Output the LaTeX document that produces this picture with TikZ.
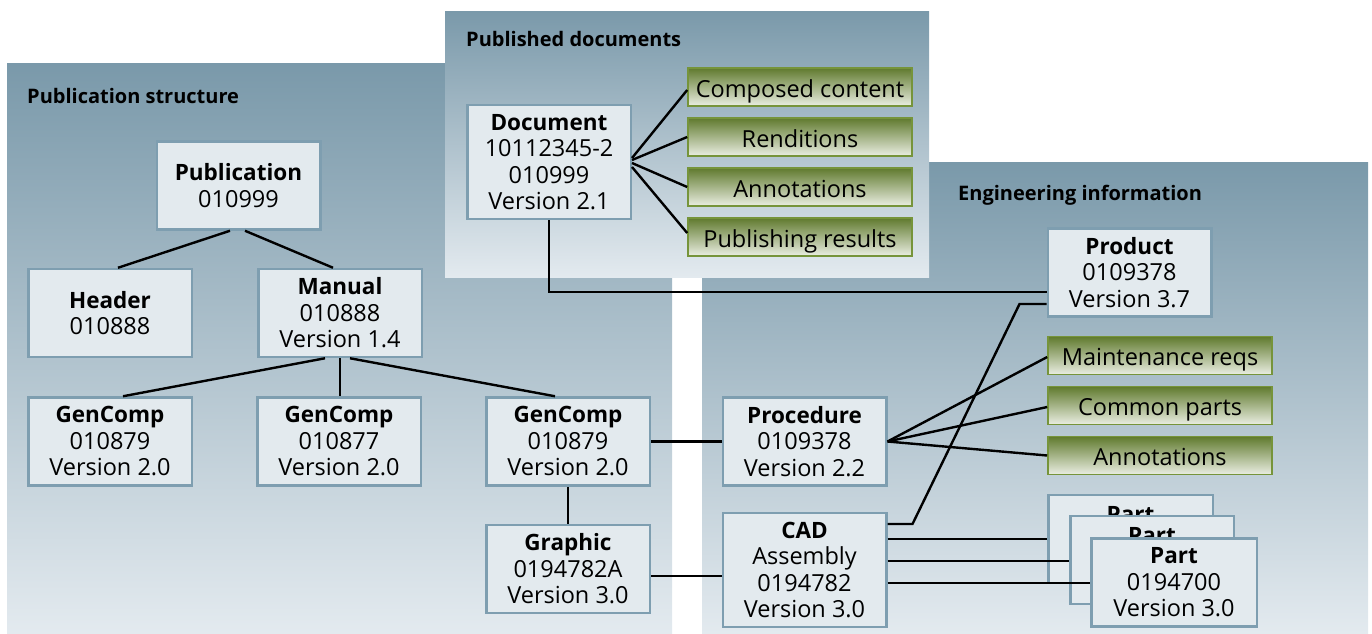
\documentclass[tikz,border=0pt]{standalone}
\usepackage{fontspec}
\setmainfont{Open Sans}
\usetikzlibrary{calc}

\definecolor{panTop}{RGB}{122,153,170}
\definecolor{panBot}{RGB}{227,234,239}
\definecolor{boxFill}{RGB}{227,234,238}
\definecolor{boxLine}{RGB}{126,158,176}
\definecolor{grnTop}{RGB}{96,122,46}
\definecolor{grnBot}{RGB}{234,238,226}
\definecolor{grnLine}{RGB}{118,148,58}

\newcommand{\hd}[1]{{\fontsize{22.5}{26.5}\selectfont\bfseries #1}}

\tikzset{
  panel/.style={top color=panTop, bottom color=panBot, draw=none},
  ptitle/.style={anchor=base west, inner sep=0pt, font=\fontsize{20}{24}\selectfont\bfseries},
  infobox/.style={draw=boxLine, line width=2.5pt, fill=boxFill, align=center, inner sep=0pt,
    minimum width=163.5, minimum height=88, font=\fontsize{23.5}{26.5}\selectfont},
  tallbox/.style={infobox, minimum height=114},
  parttitle/.style={anchor=base, inner sep=0pt},
  greenbox/.style={draw=grnLine, line width=1.6pt, top color=grnTop, bottom color=grnBot,
    minimum width=224, minimum height=38, inner sep=0pt, text height=21, text depth=1,
    font=\fontsize{23.5}{26}\selectfont},
  link/.style={line width=2.4pt, black},
}

\begin{document}
\begin{tikzpicture}[x=1pt, y=-1pt]
\useasboundingbox (0,0) rectangle (1372,633);

% background panels
\shade[panel] (7,63) rectangle (672,633);
\shade[panel] (702,162) rectangle (1368,633);
\shade[panel] (445,11) rectangle (929,277);

% panel headings
\node[ptitle] (tstruct) at (27,103) {Publication structure};
\node[ptitle] (tdocs) at (466,46) {Published documents};
\node[ptitle] (teng) at (958,200) {Engineering information};

% publication structure
\node[infobox] (pub) at (238.5,185.5) {\hd{Publication}\\010999};
\node[infobox] (hdr) at (110,313) {\hd{Header}\\010888};
\node[infobox] (man) at (340,313) {\hd{Manual}\\010888\\Version 1.4};
\node[infobox] (gc1) at (110,441.5) {\hd{GenComp}\\010879\\Version 2.0};
\node[infobox] (gc2) at (339,441.5) {\hd{GenComp}\\010877\\Version 2.0};
\node[infobox] (gc3) at (568,441.5) {\hd{GenComp}\\010879\\Version 2.0};
\node[infobox] (gra) at (568,569) {\hd{Graphic}\\0194782A\\Version 3.0};

% published documents
\node[tallbox] (doc) at (549,162) {\hd{Document}\\10112345-2\\010999\\Version 2.1};
\node[greenbox] (cc) at (800,87) {Composed content};
\node[greenbox] (ren) at (800,137) {Renditions};
\node[greenbox] (ann) at (800,187) {Annotations};
\node[greenbox] (pres) at (800,237) {Publishing results};

% engineering information
\node[infobox] (prod) at (1129.5,272.5) {\hd{Product}\\0109378\\Version 3.7};
\node[greenbox] (mreq) at (1160,355.5) {Maintenance reqs};
\node[greenbox] (cpar) at (1160,405.5) {Common parts};
\node[greenbox] (ann2) at (1160,455.5) {Annotations};
\node[infobox] (proc) at (804.5,441.5) {\hd{Procedure}\\0109378\\Version 2.2};
\node[tallbox] (cad) at (804.5,570) {\hd{CAD}\\Assembly\\0194782\\Version 3.0};

% stacked parts: only the headings of the two rear cards peek out
\node[infobox, minimum width=164.5] (partA) at (1130.5,539) {};
\node[parttitle] (partAt) at ([yshift=-29pt]partA.north) {\hd{Part}};
\node[infobox] (partB) at (1152,560) {};
\node[parttitle] (partBt) at ([yshift=-29pt]partB.north) {\hd{Part}};
\node[infobox, minimum width=165.5] (partC) at (1174,582.5) {\hd{Part}\\0194700\\Version 3.0};

% structure tree
\draw[link] ([xshift=-8.5pt]pub.south) -- ([xshift=8pt]hdr.north);
\draw[link] ([xshift=6.5pt]pub.south) -- ([xshift=-7pt]man.north);
\draw[link] ([xshift=-15pt]man.south) -- ([xshift=13pt]gc1.north);
\draw[link] (man.south) -- (man.south |- gc2.north);
\draw[link] ([xshift=10pt]man.south) -- ([xshift=-13pt]gc3.north);
\draw[link] (gc3.south) -- (gra.north);
\draw[link] (gc3.east) -- (proc.west);
\draw[link] ([yshift=-7pt]gra.east) -- ([yshift=-7pt]gra.east -| cad.west);

% document relations
\draw[link] ([yshift=4pt]doc.east) -- ([yshift=-3pt]cc.west);
\draw[link] ([yshift=2pt]doc.east) -- (ren.west);
\draw[link] ([yshift=-1pt]doc.east) -- (ann.west);
\draw[link] ([yshift=-5pt]doc.east) -- ([yshift=4pt]pres.west);
\draw[link] (doc.south) |- ([yshift=-19.5pt]prod.west);

% engineering relations
\draw[link] (proc.east) -- ([yshift=-1.5pt]mreq.west);
\draw[link] (proc.east) -- ([yshift=-1.5pt]cpar.west);
\draw[link] (proc.east) -- (ann2.west);
\draw[link] ([yshift=46pt]cad.east) -- ++(25,0)
  -- ($([yshift=-31.5pt]prod.west)+(-27,0)$) -- ([yshift=-31.5pt]prod.west);
\draw[link] ([yshift=31pt]cad.east) -- ([yshift=31pt]cad.east -| partA.west);
\draw[link] ([yshift=9pt]cad.east) -- ([yshift=9pt]cad.east -| partB.west);
\draw[link] ([yshift=-13pt]cad.east) -- ([yshift=-13pt]cad.east -| partC.west);
\end{tikzpicture}
\end{document}
